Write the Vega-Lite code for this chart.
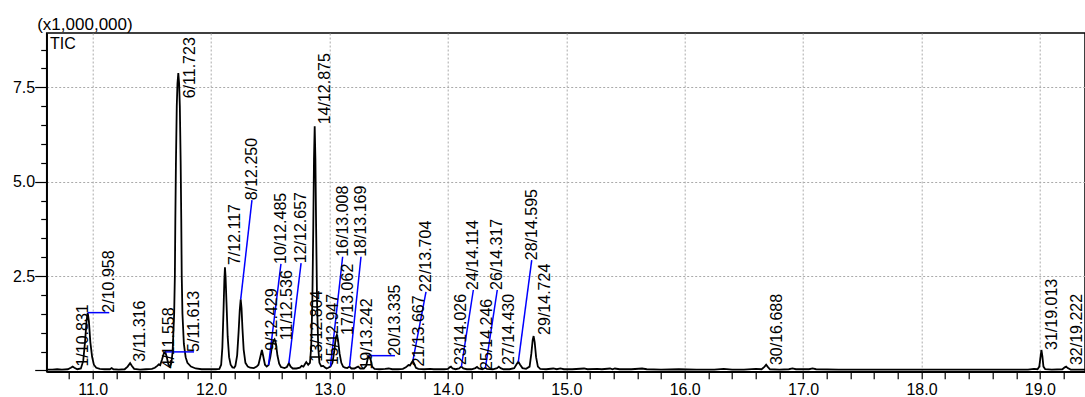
{
  "$schema": "https://vega.github.io/schema/vega-lite/v6.json",
  "width": 1038.3,
  "height": 338.7,
  "autosize": {"type": "none"},
  "padding": {"left": 46.7, "top": 33, "right": 0, "bottom": 25.3},
  "background": "white",
  "config": {
    "font": "Liberation Sans",
    "view": {"stroke": "black", "strokeWidth": 1.5}
  },
  "datasets": {
    "trace": [
      {"t": 10.612, "v": 0.02}, {"t": 10.66, "v": 0.02}, {"t": 10.70, "v": 0.03}, {"t": 10.74, "v": 0.02},
      {"t": 10.79, "v": 0.03}, {"t": 10.815, "v": 0.07}, {"t": 10.831, "v": 0.10}, {"t": 10.845, "v": 0.07},
      {"t": 10.87, "v": 0.03}, {"t": 10.90, "v": 0.05}, {"t": 10.92, "v": 0.25}, {"t": 10.935, "v": 0.75},
      {"t": 10.948, "v": 1.3}, {"t": 10.958, "v": 1.53}, {"t": 10.968, "v": 1.3}, {"t": 10.98, "v": 0.75},
      {"t": 10.995, "v": 0.36}, {"t": 11.01, "v": 0.15}, {"t": 11.03, "v": 0.07}, {"t": 11.06, "v": 0.04},
      {"t": 11.10, "v": 0.03}, {"t": 11.145, "v": 0.03}, {"t": 11.16, "v": 0.06}, {"t": 11.175, "v": 0.03},
      {"t": 11.22, "v": 0.02}, {"t": 11.27, "v": 0.03}, {"t": 11.295, "v": 0.10}, {"t": 11.316, "v": 0.19},
      {"t": 11.33, "v": 0.12}, {"t": 11.35, "v": 0.04}, {"t": 11.40, "v": 0.02}, {"t": 11.45, "v": 0.03},
      {"t": 11.50, "v": 0.04}, {"t": 11.525, "v": 0.07}, {"t": 11.545, "v": 0.12}, {"t": 11.558, "v": 0.16},
      {"t": 11.57, "v": 0.14}, {"t": 11.585, "v": 0.28}, {"t": 11.60, "v": 0.44}, {"t": 11.613, "v": 0.49},
      {"t": 11.625, "v": 0.36}, {"t": 11.64, "v": 0.15}, {"t": 11.653, "v": 0.10}, {"t": 11.665, "v": 0.2},
      {"t": 11.675, "v": 0.5}, {"t": 11.688, "v": 1.5}, {"t": 11.694, "v": 2.5}, {"t": 11.698, "v": 4.0},
      {"t": 11.703, "v": 5.5}, {"t": 11.71, "v": 7.0}, {"t": 11.716, "v": 7.6}, {"t": 11.723, "v": 7.88},
      {"t": 11.73, "v": 7.6}, {"t": 11.736, "v": 7.0}, {"t": 11.743, "v": 5.5}, {"t": 11.748, "v": 4.0},
      {"t": 11.752, "v": 2.5}, {"t": 11.758, "v": 1.5}, {"t": 11.77, "v": 0.7}, {"t": 11.785, "v": 0.35},
      {"t": 11.80, "v": 0.2}, {"t": 11.83, "v": 0.1}, {"t": 11.87, "v": 0.05}, {"t": 11.92, "v": 0.03},
      {"t": 11.98, "v": 0.03}, {"t": 12.04, "v": 0.03}, {"t": 12.07, "v": 0.04}, {"t": 12.085, "v": 0.15},
      {"t": 12.095, "v": 0.6}, {"t": 12.105, "v": 1.6}, {"t": 12.112, "v": 2.4}, {"t": 12.117, "v": 2.73},
      {"t": 12.122, "v": 2.5}, {"t": 12.13, "v": 1.8}, {"t": 12.14, "v": 0.9}, {"t": 12.152, "v": 0.35},
      {"t": 12.165, "v": 0.15}, {"t": 12.18, "v": 0.08}, {"t": 12.195, "v": 0.07}, {"t": 12.205, "v": 0.12},
      {"t": 12.22, "v": 0.4}, {"t": 12.232, "v": 1.0}, {"t": 12.242, "v": 1.6}, {"t": 12.25, "v": 1.88},
      {"t": 12.257, "v": 1.65}, {"t": 12.265, "v": 1.1}, {"t": 12.275, "v": 0.55}, {"t": 12.29, "v": 0.2},
      {"t": 12.31, "v": 0.1}, {"t": 12.33, "v": 0.07}, {"t": 12.36, "v": 0.06}, {"t": 12.385, "v": 0.1},
      {"t": 12.40, "v": 0.15}, {"t": 12.415, "v": 0.35}, {"t": 12.429, "v": 0.54}, {"t": 12.44, "v": 0.38},
      {"t": 12.455, "v": 0.15}, {"t": 12.47, "v": 0.1}, {"t": 12.485, "v": 0.14}, {"t": 12.50, "v": 0.35},
      {"t": 12.515, "v": 0.65}, {"t": 12.525, "v": 0.78}, {"t": 12.536, "v": 0.82}, {"t": 12.548, "v": 0.7},
      {"t": 12.56, "v": 0.4}, {"t": 12.575, "v": 0.18}, {"t": 12.59, "v": 0.09}, {"t": 12.62, "v": 0.06},
      {"t": 12.64, "v": 0.09}, {"t": 12.657, "v": 0.19}, {"t": 12.672, "v": 0.1}, {"t": 12.69, "v": 0.05},
      {"t": 12.72, "v": 0.05}, {"t": 12.75, "v": 0.07}, {"t": 12.765, "v": 0.12}, {"t": 12.78, "v": 0.1},
      {"t": 12.792, "v": 0.16}, {"t": 12.804, "v": 0.22}, {"t": 12.82, "v": 0.15}, {"t": 12.835, "v": 0.2},
      {"t": 12.845, "v": 0.6}, {"t": 12.855, "v": 1.8}, {"t": 12.863, "v": 3.8}, {"t": 12.869, "v": 5.6},
      {"t": 12.875, "v": 6.47}, {"t": 12.881, "v": 5.6}, {"t": 12.887, "v": 3.8}, {"t": 12.895, "v": 1.8},
      {"t": 12.905, "v": 0.6}, {"t": 12.915, "v": 0.2}, {"t": 12.93, "v": 0.11}, {"t": 12.947, "v": 0.12},
      {"t": 12.96, "v": 0.08}, {"t": 12.975, "v": 0.05}, {"t": 12.99, "v": 0.07}, {"t": 13.008, "v": 0.1},
      {"t": 13.025, "v": 0.2}, {"t": 13.04, "v": 0.5}, {"t": 13.052, "v": 0.85}, {"t": 13.062, "v": 0.94},
      {"t": 13.072, "v": 0.8}, {"t": 13.085, "v": 0.45}, {"t": 13.10, "v": 0.2}, {"t": 13.115, "v": 0.1},
      {"t": 13.13, "v": 0.07}, {"t": 13.15, "v": 0.06}, {"t": 13.169, "v": 0.1}, {"t": 13.185, "v": 0.05},
      {"t": 13.21, "v": 0.05}, {"t": 13.228, "v": 0.08}, {"t": 13.242, "v": 0.1}, {"t": 13.26, "v": 0.05},
      {"t": 13.29, "v": 0.05}, {"t": 13.31, "v": 0.12}, {"t": 13.322, "v": 0.3}, {"t": 13.335, "v": 0.39},
      {"t": 13.348, "v": 0.28}, {"t": 13.36, "v": 0.1}, {"t": 13.38, "v": 0.04}, {"t": 13.42, "v": 0.03},
      {"t": 13.47, "v": 0.04}, {"t": 13.50, "v": 0.05}, {"t": 13.53, "v": 0.03}, {"t": 13.58, "v": 0.03},
      {"t": 13.62, "v": 0.04}, {"t": 13.645, "v": 0.08}, {"t": 13.667, "v": 0.14}, {"t": 13.68, "v": 0.13},
      {"t": 13.693, "v": 0.2}, {"t": 13.704, "v": 0.25}, {"t": 13.715, "v": 0.18}, {"t": 13.73, "v": 0.07},
      {"t": 13.75, "v": 0.04}, {"t": 13.80, "v": 0.03}, {"t": 13.85, "v": 0.04}, {"t": 13.88, "v": 0.03},
      {"t": 13.93, "v": 0.03}, {"t": 13.97, "v": 0.03}, {"t": 14.0, "v": 0.04}, {"t": 14.015, "v": 0.08},
      {"t": 14.026, "v": 0.1}, {"t": 14.04, "v": 0.05}, {"t": 14.065, "v": 0.03}, {"t": 14.095, "v": 0.05},
      {"t": 14.104, "v": 0.08}, {"t": 14.114, "v": 0.1}, {"t": 14.13, "v": 0.05}, {"t": 14.16, "v": 0.03},
      {"t": 14.20, "v": 0.03}, {"t": 14.232, "v": 0.06}, {"t": 14.246, "v": 0.09}, {"t": 14.26, "v": 0.05},
      {"t": 14.29, "v": 0.03}, {"t": 14.305, "v": 0.05}, {"t": 14.317, "v": 0.07}, {"t": 14.33, "v": 0.04},
      {"t": 14.38, "v": 0.03}, {"t": 14.415, "v": 0.06}, {"t": 14.43, "v": 0.1}, {"t": 14.445, "v": 0.06},
      {"t": 14.47, "v": 0.03}, {"t": 14.52, "v": 0.03}, {"t": 14.56, "v": 0.06}, {"t": 14.58, "v": 0.16},
      {"t": 14.595, "v": 0.23}, {"t": 14.61, "v": 0.15}, {"t": 14.63, "v": 0.06}, {"t": 14.66, "v": 0.04},
      {"t": 14.69, "v": 0.1}, {"t": 14.705, "v": 0.45}, {"t": 14.716, "v": 0.8}, {"t": 14.724, "v": 0.91},
      {"t": 14.733, "v": 0.75}, {"t": 14.745, "v": 0.35}, {"t": 14.76, "v": 0.1}, {"t": 14.78, "v": 0.04},
      {"t": 14.83, "v": 0.03}, {"t": 14.89, "v": 0.05}, {"t": 14.92, "v": 0.03}, {"t": 14.95, "v": 0.05},
      {"t": 14.98, "v": 0.03}, {"t": 15.05, "v": 0.03}, {"t": 15.15, "v": 0.05}, {"t": 15.18, "v": 0.03},
      {"t": 15.26, "v": 0.04}, {"t": 15.30, "v": 0.03}, {"t": 15.37, "v": 0.05}, {"t": 15.39, "v": 0.03},
      {"t": 15.41, "v": 0.05}, {"t": 15.45, "v": 0.03}, {"t": 15.55, "v": 0.03}, {"t": 15.64, "v": 0.05},
      {"t": 15.68, "v": 0.03}, {"t": 15.8, "v": 0.02}, {"t": 15.95, "v": 0.03}, {"t": 16.1, "v": 0.02},
      {"t": 16.25, "v": 0.02}, {"t": 16.33, "v": 0.04}, {"t": 16.4, "v": 0.02}, {"t": 16.5, "v": 0.02},
      {"t": 16.6, "v": 0.04}, {"t": 16.65, "v": 0.03}, {"t": 16.675, "v": 0.1}, {"t": 16.688, "v": 0.15},
      {"t": 16.70, "v": 0.1}, {"t": 16.72, "v": 0.03}, {"t": 16.8, "v": 0.02}, {"t": 16.88, "v": 0.03},
      {"t": 16.91, "v": 0.05}, {"t": 16.94, "v": 0.03}, {"t": 17.05, "v": 0.03}, {"t": 17.08, "v": 0.05},
      {"t": 17.11, "v": 0.03}, {"t": 17.3, "v": 0.02}, {"t": 17.5, "v": 0.02}, {"t": 17.7, "v": 0.02},
      {"t": 17.9, "v": 0.02}, {"t": 18.1, "v": 0.02}, {"t": 18.3, "v": 0.02}, {"t": 18.5, "v": 0.02},
      {"t": 18.7, "v": 0.02}, {"t": 18.9, "v": 0.02}, {"t": 18.95, "v": 0.04}, {"t": 18.98, "v": 0.03},
      {"t": 18.995, "v": 0.1}, {"t": 19.005, "v": 0.35}, {"t": 19.013, "v": 0.54}, {"t": 19.021, "v": 0.38},
      {"t": 19.03, "v": 0.1}, {"t": 19.045, "v": 0.03}, {"t": 19.1, "v": 0.02}, {"t": 19.19, "v": 0.03},
      {"t": 19.21, "v": 0.08}, {"t": 19.222, "v": 0.1}, {"t": 19.235, "v": 0.06}, {"t": 19.26, "v": 0.02},
      {"t": 19.32, "v": 0.02}, {"t": 19.38, "v": 0.02}
    ],
    "peaks": [
      {"label": "1/10.831", "rt": 10.831, "h": 0.10, "lx": 10.914, "ly": 0.10, "leader": false},
      {"label": "2/10.958", "rt": 10.958, "h": 1.53, "lx": 11.14, "ly": 1.53, "leader": true},
      {"label": "3/11.316", "rt": 11.316, "h": 0.19, "lx": 11.40, "ly": 0.23, "leader": false},
      {"label": "4/11.558", "rt": 11.558, "h": 0.16, "lx": 11.644, "ly": 0.05, "leader": false},
      {"label": "5/11.613", "rt": 11.613, "h": 0.49, "lx": 11.856, "ly": 0.49, "leader": true},
      {"label": "6/11.723", "rt": 11.723, "h": 7.88, "lx": 11.826, "ly": 7.21, "leader": false},
      {"label": "7/12.117", "rt": 12.117, "h": 2.73, "lx": 12.198, "ly": 2.79, "leader": false},
      {"label": "8/12.250", "rt": 12.25, "h": 1.88, "lx": 12.345, "ly": 4.51, "leader": true},
      {"label": "9/12.429", "rt": 12.429, "h": 0.54, "lx": 12.514, "ly": 0.52, "leader": false},
      {"label": "10/12.485", "rt": 12.485, "h": 0.14, "lx": 12.59, "ly": 2.82, "leader": true},
      {"label": "11/12.536", "rt": 12.536, "h": 0.82, "lx": 12.638, "ly": 0.80, "leader": false},
      {"label": "12/12.657", "rt": 12.657, "h": 0.19, "lx": 12.76, "ly": 2.84, "leader": true},
      {"label": "13/12.804", "rt": 12.804, "h": 0.22, "lx": 12.892, "ly": 0.23, "leader": false},
      {"label": "14/12.875", "rt": 12.875, "h": 6.47, "lx": 12.962, "ly": 6.52, "leader": false},
      {"label": "15/12.947", "rt": 12.947, "h": 0.12, "lx": 13.03, "ly": 0.14, "leader": false},
      {"label": "16/13.008", "rt": 13.008, "h": 0.10, "lx": 13.111, "ly": 3.01, "leader": true},
      {"label": "17/13.062", "rt": 13.062, "h": 0.94, "lx": 13.156, "ly": 0.94, "leader": false},
      {"label": "18/13.169", "rt": 13.169, "h": 0.10, "lx": 13.266, "ly": 3.01, "leader": true},
      {"label": "19/13.242", "rt": 13.242, "h": 0.10, "lx": 13.314, "ly": 0.02, "leader": false},
      {"label": "20/13.335", "rt": 13.335, "h": 0.39, "lx": 13.553, "ly": 0.39, "leader": true},
      {"label": "21/13.667", "rt": 13.667, "h": 0.14, "lx": 13.756, "ly": 0.10, "leader": false},
      {"label": "22/13.704", "rt": 13.704, "h": 0.25, "lx": 13.815, "ly": 2.08, "leader": true},
      {"label": "23/14.026", "rt": 14.026, "h": 0.10, "lx": 14.11, "ly": 0.14, "leader": false},
      {"label": "24/14.114", "rt": 14.114, "h": 0.10, "lx": 14.215, "ly": 2.13, "leader": true},
      {"label": "25/14.246", "rt": 14.246, "h": 0.09, "lx": 14.334, "ly": 0.01, "leader": false},
      {"label": "26/14.317", "rt": 14.317, "h": 0.07, "lx": 14.417, "ly": 2.13, "leader": true},
      {"label": "27/14.430", "rt": 14.43, "h": 0.10, "lx": 14.516, "ly": 0.14, "leader": false},
      {"label": "28/14.595", "rt": 14.595, "h": 0.23, "lx": 14.708, "ly": 2.92, "leader": true},
      {"label": "29/14.724", "rt": 14.724, "h": 0.91, "lx": 14.82, "ly": 0.94, "leader": false},
      {"label": "30/16.688", "rt": 16.688, "h": 0.15, "lx": 16.78, "ly": 0.14, "leader": false},
      {"label": "31/19.013", "rt": 19.013, "h": 0.54, "lx": 19.103, "ly": 0.54, "leader": false},
      {"label": "32/19.222", "rt": 19.222, "h": 0.10, "lx": 19.314, "ly": 0.14, "leader": false}
    ]
  },
  "encoding": {
    "x": {
      "type": "quantitative",
      "title": null,
      "scale": {"domain": [10.6115, 19.381], "nice": false, "zero": false},
      "axis": {
        "values": [10.8, 11, 11.2, 11.4, 11.6, 11.8, 12, 12.2, 12.4, 12.6, 12.8, 13, 13.2, 13.4, 13.6, 13.8, 14, 14.2, 14.4, 14.6, 14.8, 15, 15.2, 15.4, 15.6, 15.8, 16, 16.2, 16.4, 16.6, 16.8, 17, 17.2, 17.4, 17.6, 17.8, 18, 18.2, 18.4, 18.6, 18.8, 19, 19.2],
        "labelExpr": "abs(datum.value - round(datum.value)) < 0.001 ? format(datum.value, '.1f') : ''",
        "labelFontSize": 16, "labelColor": "black", "labelPadding": 3,
        "labelOverlap": false, "labelFlush": false,
        "tickSize": 7, "tickColor": "black", "tickWidth": 1.2,
        "domainColor": "black", "domainWidth": 1.8,
        "grid": true, "gridColor": "#aaaaaa", "gridDash": [2, 2], "gridWidth": 1,
        "gridOpacity": {"condition": {"test": "abs(datum.value - round(datum.value)) < 0.001", "value": 1}, "value": 0}
      }
    },
    "y": {
      "type": "quantitative",
      "title": "(x1,000,000)",
      "scale": {"domain": [-0.035, 8.94], "nice": false, "zero": false},
      "axis": {
        "titleAngle": 0, "titleX": -10, "titleY": -4, "titleAlign": "left", "titleBaseline": "alphabetic",
        "titleFontSize": 17, "titleFontWeight": "normal", "titleColor": "black",
        "values": [0, 0.5, 1, 1.5, 2, 2.5, 3, 3.5, 4, 4.5, 5, 5.5, 6, 6.5, 7, 7.5, 8, 8.5],
        "labelExpr": "datum.value > 0 && abs(datum.value / 2.5 - round(datum.value / 2.5)) < 0.001 ? format(datum.value, '.1f') : ''",
        "labelFontSize": 16, "labelColor": "black", "labelPadding": 0, "labelOverlap": false, "labelFlush": false,
        "tickSize": {"condition": {"test": "abs(datum.value / 2.5 - round(datum.value / 2.5)) < 0.001", "value": 12}, "value": 6},
        "tickColor": "black", "tickWidth": 1.2,
        "domainColor": "black", "domainWidth": 1.5,
        "grid": true, "gridColor": "#aaaaaa", "gridDash": [2, 2], "gridWidth": 1,
        "gridOpacity": {"condition": {"test": "datum.value > 0 && abs(datum.value / 2.5 - round(datum.value / 2.5)) < 0.001", "value": 1}, "value": 0}
      }
    }
  },
  "layer": [
    {
      "data": {"name": "trace"},
      "mark": {"type": "line", "color": "black", "strokeWidth": 1.8, "clip": true},
      "encoding": {
        "x": {"field": "t"},
        "y": {"field": "v"}
      }
    },
    {
      "data": {"name": "peaks"},
      "transform": [{"filter": "datum.leader"}],
      "mark": {"type": "rule", "color": "#0000ff", "strokeWidth": 1.5},
      "encoding": {
        "x": {"field": "rt"},
        "y": {"field": "h"},
        "x2": {"field": "lx"},
        "y2": {"field": "ly"}
      }
    },
    {
      "data": {"name": "peaks"},
      "mark": {"type": "text", "angle": 270, "align": "left", "baseline": "middle", "fontSize": 16, "color": "black"},
      "encoding": {
        "x": {"field": "lx"},
        "y": {"field": "ly"},
        "text": {"field": "label", "type": "nominal"}
      }
    },
    {
      "data": {"values": [{"name": "TIC", "t": 10.639, "v": 8.87}]},
      "mark": {"type": "text", "align": "left", "baseline": "top", "fontSize": 16, "color": "black"},
      "encoding": {
        "x": {"field": "t"},
        "y": {"field": "v"},
        "text": {"field": "name", "type": "nominal"}
      }
    }
  ]
}
